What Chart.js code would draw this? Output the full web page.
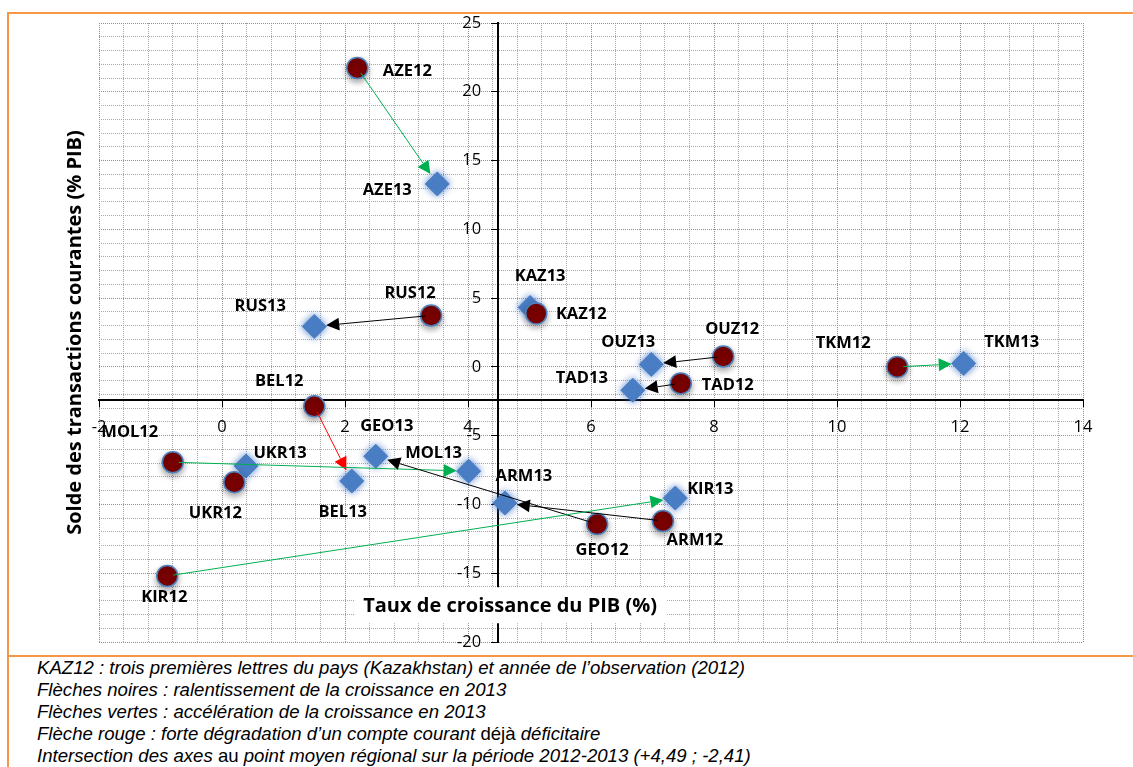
<!DOCTYPE html>
<html lang="fr">
<head>
<meta charset="utf-8">
<title>Croissance et solde courant 2012-2013</title>
<script src="https://cdn.jsdelivr.net/npm/chart.js@4.4.1/dist/chart.umd.min.js"></script>
<style>
    body { margin: 0; background: #fff; width: 1133px; height: 767px; overflow: hidden; position: relative; }
    #frame { position: absolute; left: 7px; top: 12px; width: 1200px; height: 641px; border: 2.5px solid #F79646; border-right: none; }
    #notesFrame { position: absolute; left: 7px; top: 655px; width: 10px; height: 120px; border-left: 2.5px solid #F79646; }
    #chartBox { position: absolute; left: 0; top: 0; width: 1133px; height: 655px; }
    #notes { position: absolute; left: 37px; top: 657px; font-family: "Liberation Sans", Arial, sans-serif; font-style: italic; font-size: 18.6px; line-height: 22px; color: #000; }
    #notes .up { font-style: normal; }
</style>
</head>
<body>
<div id="frame"></div>
<div id="notesFrame"></div>
<div id="chartBox"><canvas id="scatterChart"></canvas></div>
<div id="notes">
    <div>KAZ12 : trois premières lettres du pays (Kazakhstan) et année de l’observation (2012)</div>
    <div>Flèches noires : ralentissement de la croissance en 2013</div>
    <div>Flèches vertes : accélération de la croissance en 2013</div>
    <div>Flèche rouge : forte dégradation d’un compte courant <span class="up">déjà</span> déficitaire</div>
    <div>Intersection des axes <span class="up">au</span> point moyen régional sur la période 2012-2013 (+4,49 ; -2,41)</div>
</div>
<script>
// Data
const countries = ['AZE', 'RUS', 'KAZ', 'OUZ', 'TAD', 'TKM', 'BEL', 'MOL', 'UKR', 'GEO', 'ARM', 'KIR'];
const growth2012 = [2.20, 3.40, 5.11, 8.15, 7.46, 10.98, 1.50, -0.80, 0.20, 6.10, 7.17, -0.89];
const balance2012 = [21.73, 3.74, 3.88, 0.76, -1.20, 0.00, -2.87, -6.93, -8.38, -11.43, -11.20, -15.20];
const growth2013 = [3.50, 1.50, 5.01, 6.98, 6.68, 12.06, 2.11, 4.01, 0.39, 2.50, 4.60, 7.37];
const balance2013 = [13.30, 2.94, 4.32, 0.18, -1.70, 0.25, -8.30, -7.58, -7.20, -6.50, -9.90, -9.54];
const evolution = ['acceleration', 'ralentissement', 'ralentissement', 'ralentissement', 'ralentissement', 'acceleration',
    'degradation', 'acceleration', 'acceleration', 'ralentissement', 'ralentissement', 'acceleration'];
const meanPoint = { x: 4.49, y: -2.41 };

const xTitle = 'Taux de croissance du PIB (%)';
const yTitle = 'Solde des transactions courantes (% PIB)';

// styles
const arrowColors = { ralentissement: '#000000', acceleration: '#00B050', degradation: '#FF0000' };
const labelFont = 'bold 16.5px "Open Sans", sans-serif';
const titleFont = 'bold 20px "Open Sans", sans-serif';
const tickFont = '16.5px "Open Sans", sans-serif';
// label offsets (px) from the marker, [dx, dy] for 2012 and 2013
const labelOffsets12 = [[50, 3], [-21, -22], [45, 1], [9, -27], [47, 2], [-54, -24], [-35, -25], [-43, -30], [-19, 31], [5, 26], [32, 19], [-3, 21]];
const labelOffsets13 = [[-50, 6], [-54, -20], [10, -31], [-23, -22], [-51, -12], [48, -21], [-9, 31], [-35, -18], [34, -13], [11, -30], [19, -27], [35, -9]];

const points2012 = countries.map((c, i) => ({ x: growth2012[i], y: balance2012[i] }));
const points2013 = countries.map((c, i) => ({ x: growth2013[i], y: balance2013[i] }));

function isMultiple(v, step) {
    return Math.abs(v / step - Math.round(v / step)) < 1e-6;
}

// soft shadows on the markers
const markerShadow = {
    id: 'markerShadow',
    beforeDatasetDraw(chart, args) {
        const ctx = chart.ctx;
        ctx.save();
        if (args.index === 0) {
            ctx.shadowColor = 'rgba(0, 0, 0, 0.35)';
            ctx.shadowBlur = 6;
            ctx.shadowOffsetY = 3;
        } else {
            ctx.shadowColor = 'rgba(70, 120, 200, 0.9)';
            ctx.shadowBlur = 7;
        }
    },
    afterDatasetDraw(chart) {
        chart.ctx.restore();
    }
};

// y tick labels left of the centred axis
const yTickLabels = {
    id: 'yTickLabels',
    beforeDatasetsDraw(chart) {
        const ctx = chart.ctx;
        const xs = chart.scales.x, ys = chart.scales.y;
        const axisX = xs.getPixelForValue(meanPoint.x);
        ctx.save();
        ctx.font = tickFont;
        ctx.fillStyle = '#000';
        ctx.textAlign = 'right';
        ctx.textBaseline = 'middle';
        ys.ticks.forEach(t => {
            if (isMultiple(t.value, 5)) {
                ctx.fillText(String(Math.round(t.value)), axisX - 17, ys.getPixelForValue(t.value));
            }
        });
        ctx.restore();
    }
};

// arrows 2012 -> 2013, point labels and axis titles
const arrowsAndLabels = {
    id: 'arrowsAndLabels',
    afterDatasetsDraw(chart) {
        const ctx = chart.ctx;
        const xs = chart.scales.x, ys = chart.scales.y;
        ctx.save();
        countries.forEach((c, i) => {
            const x1 = xs.getPixelForValue(growth2012[i]), y1 = ys.getPixelForValue(balance2012[i]);
            const x2 = xs.getPixelForValue(growth2013[i]), y2 = ys.getPixelForValue(balance2013[i]);
            const len = Math.hypot(x2 - x1, y2 - y1);
            const startGap = 6, endGap = 12, head = 13;
            if (len < startGap + endGap + head) return;
            const ux = (x2 - x1) / len, uy = (y2 - y1) / len;
            const sx = x1 + ux * startGap, sy = y1 + uy * startGap;
            const tx = x2 - ux * endGap, ty = y2 - uy * endGap;
            const bx = tx - ux * head, by = ty - uy * head;
            const color = arrowColors[evolution[i]];
            ctx.strokeStyle = color;
            ctx.fillStyle = color;
            ctx.lineWidth = 1;
            ctx.beginPath();
            ctx.moveTo(sx, sy);
            ctx.lineTo(bx, by);
            ctx.stroke();
            ctx.beginPath();
            ctx.moveTo(tx, ty);
            ctx.lineTo(bx - uy * 6.5, by + ux * 6.5);
            ctx.lineTo(bx + uy * 6.5, by - ux * 6.5);
            ctx.closePath();
            ctx.fill();
        });
        ctx.font = labelFont;
        ctx.fillStyle = '#000';
        ctx.textAlign = 'center';
        ctx.textBaseline = 'middle';
        countries.forEach((c, i) => {
            const o12 = labelOffsets12[i], o13 = labelOffsets13[i];
            ctx.fillText(c + '12', xs.getPixelForValue(growth2012[i]) + o12[0], ys.getPixelForValue(balance2012[i]) + o12[1]);
            ctx.fillText(c + '13', xs.getPixelForValue(growth2013[i]) + o13[0], ys.getPixelForValue(balance2013[i]) + o13[1]);
        });
        ctx.restore();
    },
    afterDraw(chart) {
        const ctx = chart.ctx;
        const area = chart.chartArea;
        const xs = chart.scales.x, ys = chart.scales.y;
        ctx.save();
        ctx.font = titleFont;
        ctx.textBaseline = 'middle';
        ctx.textAlign = 'center';
        // x axis title on a white box
        const w = ctx.measureText(xTitle).width;
        const cx = xs.getPixelForValue(meanPoint.x) + 12;
        const cy = ys.getPixelForValue(-17.4);
        ctx.fillStyle = '#fff';
        ctx.fillRect(cx - w / 2 - 8, cy - 19, w + 18, 36);
        ctx.fillStyle = '#000';
        ctx.fillText(xTitle, cx, cy);
        // y axis title
        ctx.translate(area.left - 24, (area.top + area.bottom) / 2);
        ctx.rotate(-Math.PI / 2);
        ctx.fillText(yTitle, 0, 0);
        ctx.restore();
    }
};

const ctx = document.getElementById('scatterChart').getContext('2d');
new Chart(ctx, {
    type: 'scatter',
    data: {
        datasets: [
            {
                label: '2012',
                data: points2012,
                pointStyle: 'circle',
                pointRadius: 10.5,
                pointHoverRadius: 10.5,
                backgroundColor: '#7A0000',
                borderColor: '#4F81BD',
                borderWidth: 1.5
            },
            {
                label: '2013',
                data: points2013,
                pointStyle: 'rectRot',
                pointRadius: 12,
                pointHoverRadius: 12,
                backgroundColor: '#4A7EC4',
                borderColor: '#4A7EC4',
                borderWidth: 1
            }
        ]
    },
    options: {
        responsive: true,
        maintainAspectRatio: false,
        animation: false,
        layout: {
            padding: { left: 99, right: 50, top: 23, bottom: 12 }
        },
        scales: {
            x: {
                type: 'linear',
                min: -2,
                max: 14,
                position: { y: meanPoint.y },
                grid: {
                    color: ctx => isMultiple(ctx.tick.value, 2) ? '#8f8f8f' : '#a8a8a8',
                    lineWidth: 1,
                    tickLength: 6,
                    tickColor: ctx => isMultiple(ctx.tick.value, 2) ? '#000' : 'rgba(0,0,0,0)'
                },
                border: { display: true, color: '#000', width: 2, dash: [1, 1] },
                ticks: {
                    stepSize: 0.4,
                    autoSkip: false,
                    maxRotation: 0,
                    padding: 11,
                    color: '#000',
                    font: { family: '"Open Sans", sans-serif', size: 16.5 },
                    callback: v => isMultiple(v, 2) ? String(Math.round(v)) : ''
                }
            },
            y: {
                type: 'linear',
                min: -20,
                max: 25,
                position: { x: meanPoint.x },
                grid: {
                    color: ctx => isMultiple(ctx.tick.value, 5) ? '#8f8f8f' : '#a8a8a8',
                    lineWidth: 1,
                    tickLength: 6,
                    tickColor: ctx => isMultiple(ctx.tick.value, 5) ? '#000' : 'rgba(0,0,0,0)'
                },
                border: { display: true, color: '#000', width: 2, dash: [1, 1] },
                ticks: {
                    display: false,
                    stepSize: 1,
                    autoSkip: false
                }
            }
        },
        plugins: {
            legend: { display: false },
            tooltip: { enabled: false }
        }
    },
    plugins: [markerShadow, yTickLabels, arrowsAndLabels]
});
</script>
</body>
</html>
